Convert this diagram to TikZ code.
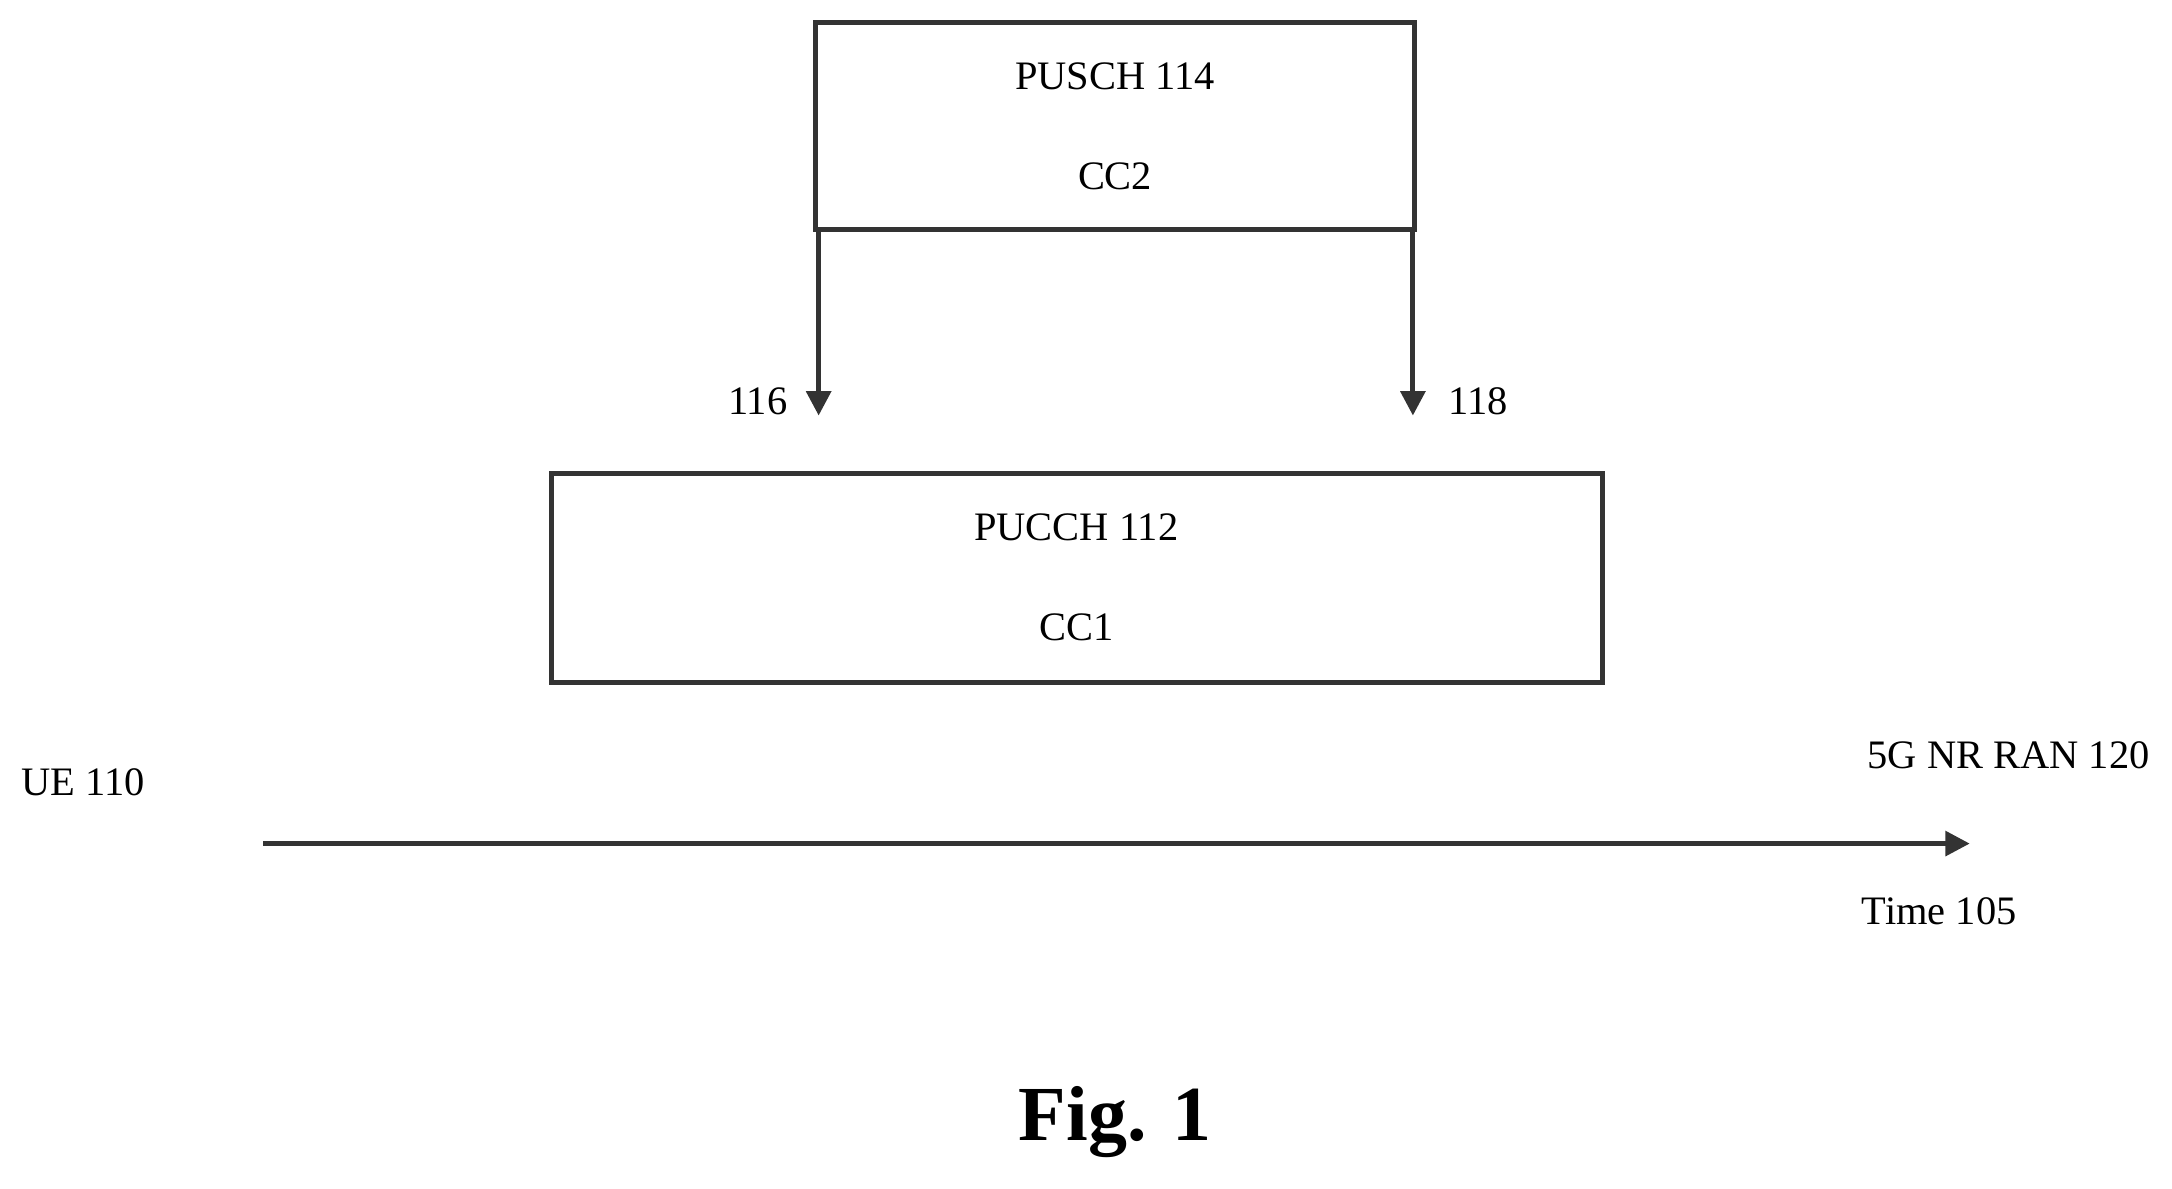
\documentclass[tikz,border=0pt]{standalone}
\usepackage{fontspec}
\setmainfont{Liberation Serif}
\usetikzlibrary{arrows.meta}
\begin{document}
\begin{tikzpicture}[x=0.01cm,y=-0.01cm,
  box/.style={draw=black!80,line width=1pt},
  lbl/.style={font=\fontsize{8.3}{10}\selectfont,inner sep=0pt},
  arr/.style={draw=black!80,line width=1pt,-{Triangle[length=5pt,width=5pt]}}]
\useasboundingbox (0,0) rectangle (1568,858);
\draw[box] (589,16) rectangle (1021,166);
\node[lbl] (pusch) at (805,55) {PUSCH 114};
\node[lbl] (cc2) at (805,127) {CC2};
\coordinate (a1s) at (591,166); \coordinate (a1e) at (591,300);
\coordinate (a2s) at (1020,166); \coordinate (a2e) at (1020,300);
\draw[arr] (a1s) -- (a1e);
\draw[arr] (a2s) -- (a2e);
\node[lbl] (l116) at (547,290) {116};
\node[lbl] (l118) at (1067,290) {118};
\draw[box] (398,342) rectangle (1157,493);
\node[lbl] (pucch) at (777,381) {PUCCH 112};
\node[lbl] (cc1) at (777,453) {CC1};
\node[lbl] (ue) at (60,565) {UE 110};
\node[lbl] (ran) at (1450,545) {5G NR RAN 120};
\coordinate (ts) at (190,609); \coordinate (te) at (1422,609);
\draw[arr] (ts) -- (te);
\node[lbl] (time) at (1400,658) {Time 105};
\node[font=\fontsize{16}{19}\selectfont\bfseries,inner sep=0pt] (fig) at (805,810) {Fig. 1};
\end{tikzpicture}
\end{document}
